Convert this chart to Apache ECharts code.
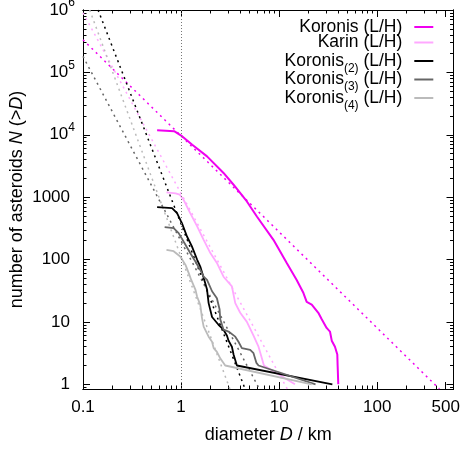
<!DOCTYPE html>
<html><head><meta charset="utf-8">
<script src="https://cdn.jsdelivr.net/npm/echarts@6/dist/echarts.min.js"></script>
<style>html,body{margin:0;padding:0;background:#fff}#c{width:462px;height:453px}</style>
</head><body><div id="c"></div>
<script>
// ---- data (diameter D in km, cumulative number N(>D)) ----
const koronisD = [0.57, 0.85, 1.03, 1.30, 1.84, 2.71, 3.43, 4.69, 5.93, 8.75, 12.0, 15.1, 17.7, 19.1, 21.5, 25.1, 27.2, 30.5, 33.0, 34.4, 37.1, 39.2, 39.5, 40.1];
const koronisN = [11800, 11400, 9400, 6900, 4500, 2440, 1580, 853, 490, 207, 87, 47, 29, 21, 19, 14, 11, 8, 7, 5, 4, 3, 2, 1];

const karinD = [0.71, 0.88, 0.97, 1.06, 1.24, 1.46, 1.70, 1.99, 2.32, 2.71, 3.30, 3.57, 4.01, 4.69, 5.48, 6.16, 6.5, 7.0, 14.5];
const karinN = [1190, 1150, 1094, 908, 556, 339, 207, 127, 88, 53, 37, 20, 14, 10, 6, 4, 3, 2, 1];

const koronis2D = [0.57, 0.81, 0.91, 1.02, 1.15, 1.29, 1.46, 1.57, 1.70, 1.84, 1.91, 2.07, 2.41, 2.71, 2.94, 3.05, 3.30, 3.43, 3.71, 34.9];
const koronis2N = [693, 668, 555, 384, 234, 162, 99, 77, 51, 33, 20, 12, 9, 7.5, 6, 5, 4, 3, 2, 1];

const koronis3D = [0.68, 0.84, 0.945, 1.06, 1.24, 1.40, 1.57, 1.70, 1.84, 2.07, 2.32, 2.47, 2.51, 2.71, 3.05, 3.57, 3.85, 4.17, 5.07, 5.48, 5.87, 6.16, 23.5];
const koronis3N = [331, 319, 265, 194, 127, 93, 68, 53, 47, 31, 24, 16, 11, 7.5, 7, 5.8, 4.8, 3.8, 3.55, 3.15, 2.2, 2, 1];

const koronis4D = [0.71, 0.84, 0.98, 1.11, 1.20, 1.27, 1.40, 1.455, 1.57, 1.635, 1.70, 1.91, 2.07, 2.15, 2.32, 2.51, 2.71, 2.82, 21.5];
const koronis4N = [143, 136, 112, 82, 60, 47, 33, 25.5, 18.7, 11.5, 8.4, 5.8, 4.8, 3.8, 3.3, 2.6, 2.2, 2.0, 1];

// power-law fits (dotted), end points
const koronisFitD = [0.1, 431];     const koronisFitN = [333000, 0.84];
const karinFitD = [0.1, 12.1];      const karinFitN = [900000, 0.84];
const koronis2FitD = [0.1425, 4.5]; const koronis2FitN = [1000000, 0.84];
const koronis3FitD = [0.1, 6.3];    const koronis3FitN = [180000, 0.84];
const koronis4FitD = [0.117, 3.15]; const koronis4FitN = [1000000, 0.84];

const markerD = 1; // vertical reference line

// ---- ticks ----
const xMajorTicks = [0.1, 1, 10, 100, 500];
const xTickLabels = ['0.1', '1', '10', '100', '500'];
const yMajorTicks = [1, 10, 100, 1000, 1e4, 1e5, 1e6];
const yTickLabels = ['{n|1}', '{n|10}', '{n|100}', '{n|1000}', '10{sup|4}', '10{sup|5}', '10{sup|6}'];

const seriesNames = ['Koronis (L/H)', 'Karin (L/H)', 'Koronis(2) (L/H)', 'Koronis(3) (L/H)', 'Koronis(4) (L/H)'];
const legendLabels = ['Koronis (L/H){sub|\u200b}', 'Karin (L/H){sub|\u200b}', 'Koronis{sub|(2)} (L/H)', 'Koronis{sub|(3)} (L/H)', 'Koronis{sub|(4)} (L/H)'];
const colors = ['#f000f0', '#ffa8ff', '#000000', '#666666', '#bbbbbb'];

const X_MIN = 0.1, X_MAX = 600, Y_MIN = 0.84, Y_MAX = 1e6;
const FONT = '"Liberation Sans", Arial, Helvetica, sans-serif';

const xMinor = [];
[0.1, 1, 10, 100].forEach(dec => { for (let k = 2; k <= 9; k++) { const v = dec * k; if (v <= X_MAX && Math.abs(v - 500) > 1e-6) xMinor.push(v); } });
const yMinor = [];
[0.1, 1, 10, 100, 1000, 1e4, 1e5].forEach(dec => { for (let k = 2; k <= 9; k++) { const v = dec * k; if (v >= Y_MIN && v <= Y_MAX) yMinor.push(v); } });

function pairs(d, n) { return d.map((v, i) => [v, n[i]]); }
function findIdx(arr, v) { for (let i = 0; i < arr.length; i++) if (Math.abs(Math.log10(arr[i]) - Math.log10(v)) < 1e-6) return i; return -1; }

const axisLineStyle = { show: true, lineStyle: { color: '#000', width: 1 } };
function xAx(pos, ticks, len, withLabel) {
  const a = {
    type: 'log', logBase: 10, min: X_MIN, max: X_MAX, position: pos, gridIndex: 0,
    splitLine: { show: false }, axisLine: axisLineStyle,
    axisTick: { show: true, inside: true, length: len, customValues: ticks, lineStyle: { color: '#000', width: 1 } },
    axisLabel: { show: false }
  };
  if (withLabel) {
    a.axisLabel = {
      show: true, customValues: xMajorTicks, margin: 10, fontSize: 17, color: '#000', fontFamily: FONT,
      formatter: v => { const i = findIdx(xMajorTicks, v); return i >= 0 ? xTickLabels[i] : ''; }
    };
    a.name = 'diameter {i|D} / km';
    a.nameLocation = 'middle';
    a.nameGap = 37;
    a.nameMoveOverlap = false;
    a.nameTextStyle = { fontSize: 18, color: '#000', fontFamily: FONT, rich: { i: { fontStyle: 'italic', fontSize: 18, fontFamily: FONT, color: '#000' } } };
  }
  return a;
}
function yAx(pos, ticks, len, withLabel) {
  const a = {
    type: 'log', logBase: 10, min: Y_MIN, max: Y_MAX, position: pos, gridIndex: 0,
    splitLine: { show: false }, axisLine: axisLineStyle,
    axisTick: { show: true, inside: true, length: len, customValues: ticks, lineStyle: { color: '#000', width: 1 } },
    axisLabel: { show: false }
  };
  if (withLabel) {
    a.axisLabel = {
      show: true, customValues: yMajorTicks, margin: 8, fontSize: 17, color: '#000', fontFamily: FONT,
      formatter: v => { const i = findIdx(yMajorTicks, v); return i >= 0 ? yTickLabels[i] : ''; },
      rich: {
        n: { fontSize: 17, fontFamily: FONT, color: '#000', padding: [0, 5, 0, 0] },
        sup: { fontSize: 12, fontFamily: FONT, color: '#000', padding: [0, 0, 14, 0] }
      }
    };
    a.name = 'number of asteroids {i|N} (>{i|D})';
    a.nameLocation = 'middle';
    a.nameGap = 57;
    a.nameMoveOverlap = false;
    a.nameTextStyle = { fontSize: 18, color: '#000', fontFamily: FONT, rich: { i: { fontStyle: 'italic', fontSize: 18, fontFamily: FONT, color: '#000' } } };
  }
  return a;
}

const solids = [[koronisD, koronisN], [karinD, karinN], [koronis2D, koronis2N], [koronis3D, koronis3N], [koronis4D, koronis4N]];
const fits = [[koronisFitD, koronisFitN], [karinFitD, karinFitN], [koronis2FitD, koronis2FitN], [koronis3FitD, koronis3FitN], [koronis4FitD, koronis4FitN]];

const series = [];
series.push({
  type: 'line', name: 'marker', data: [], symbol: 'none', silent: true, xAxisIndex: 0, yAxisIndex: 0,
  markLine: { silent: true, symbol: ['none', 'none'], label: { show: false }, animation: false,
    lineStyle: { color: '#777', type: [1, 2], width: 1 }, data: [{ xAxis: markerD }] }
});
fits.forEach((f, i) => series.push({
  type: 'line', name: seriesNames[i] + ' fit', data: pairs(f[0], f[1]), symbol: 'none', silent: true,
  xAxisIndex: 0, yAxisIndex: 0, z: 2,
  lineStyle: { color: colors[i], width: 1.5, type: [2, 4] }, itemStyle: { color: colors[i] }
}));
solids.forEach((s, i) => series.push({
  type: 'line', name: seriesNames[i], data: pairs(s[0], s[1]), symbol: 'none', silent: true,
  xAxisIndex: 0, yAxisIndex: 0, z: 3,
  lineStyle: { color: colors[i], width: i === 0 ? 2 : 1.8 }, itemStyle: { color: colors[i] }
}));

// one legend block per entry so the rows sit at gnuplot's fixed spacing
const legendTops = [18, 33.5, 52, 70.5, 89];
const legends = seriesNames.map((nm, i) => ({
  data: [nm], orient: 'vertical', align: 'right', right: 28.7, top: legendTops[i], padding: 0,
  itemWidth: 19, itemHeight: 2, icon: 'rect', selectedMode: false,
  formatter: name => legendLabels[seriesNames.indexOf(name)],
  textStyle: { fontSize: 17.5, color: '#000', fontFamily: FONT, padding: [0, 7, 0, 0],
    rich: { sub: { fontSize: 12, color: '#000', fontFamily: FONT, padding: [15, 0, 0, 0] } } }
}));

const chart = echarts.init(document.getElementById('c'), null, { renderer: 'canvas' });
chart.setOption({
  animation: false,
  backgroundColor: '#fff',
  grid: { left: 83, right: 8.5, top: 10, bottom: 64, containLabel: false, outerBoundsMode: 'none' },
  xAxis: [
    xAx('bottom', xMajorTicks, 7, true),
    xAx('bottom', xMinor, 3.5, false),
    xAx('top', xMajorTicks, 7, false),
    xAx('top', xMinor, 3.5, false)
  ],
  yAxis: [
    yAx('left', yMajorTicks, 7, true),
    yAx('left', yMinor, 3.5, false),
    yAx('right', yMajorTicks, 7, false),
    yAx('right', yMinor, 3.5, false)
  ],
  legend: legends,
  series: series
});
</script>
</body></html>
